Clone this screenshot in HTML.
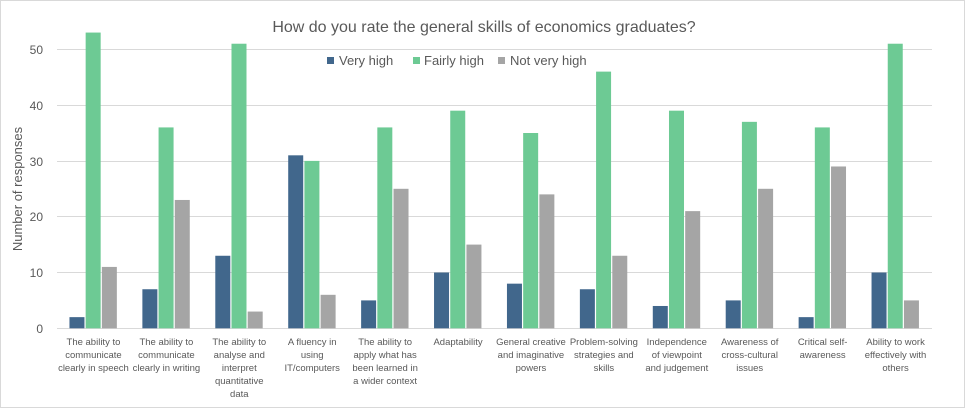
<!DOCTYPE html>
<html><head><meta charset="utf-8"><style>
body{margin:0;background:#fff}
svg{display:block;font-family:"Liberation Sans",sans-serif}
</style></head><body>
<svg width="966" height="409" viewBox="0 0 966 409">
<rect x="0.5" y="0.5" width="964" height="407" fill="#fff" stroke="#d9d9d9"/>
<text x="484" y="32" text-anchor="middle" font-size="16" fill="#595959">How do you rate the general skills of economics graduates?</text>
<g font-size="13" fill="#595959">
<rect x="327" y="57" width="7" height="7" fill="#41678c"/><text x="339" y="65">Very high</text>
<rect x="413" y="57" width="7" height="7" fill="#6dca94"/><text x="424" y="65">Fairly high</text>
<rect x="498" y="57" width="7" height="7" fill="#a5a5a5"/><text x="510" y="65">Not very high</text>
</g>
<g stroke="#d9d9d9" stroke-width="1">
<line x1="57" x2="932" y1="49.5" y2="49.5"/>
<line x1="57" x2="932" y1="105.5" y2="105.5"/>
<line x1="57" x2="932" y1="161.5" y2="161.5"/>
<line x1="57" x2="932" y1="216.5" y2="216.5"/>
<line x1="57" x2="932" y1="272.5" y2="272.5"/>
<line x1="57" x2="932" y1="328.5" y2="328.5"/>
</g>
<g font-size="12" fill="#595959" text-anchor="end">
<text x="43" y="54">50</text><text x="43" y="110">40</text><text x="43" y="166">30</text>
<text x="43" y="221">20</text><text x="43" y="277">10</text><text x="43" y="333">0</text>
</g>
<text transform="translate(22,189) rotate(-90)" text-anchor="middle" font-size="13" fill="#595959">Number of responses</text>
<g id="bars"></g>
<g id="labels" font-size="9.5" fill="#595959" text-anchor="middle"></g>
<script>
var d=[[2,53,11],[7,36,23],[13,51,3],[31,30,6],[5,36,25],[10,39,15],[8,35,24],[7,46,13],[4,39,21],[5,37,25],[2,36,29],[10,51,5]];
var L=[["The ability to","communicate","clearly in speech"],["The ability to","communicate","clearly in writing"],["The ability to","analyse and","interpret","quantitative","data"],["A fluency in","using","IT/computers"],["The ability to","apply what has","been learned in","a wider context"],["Adaptability"],["General creative","and imaginative","powers"],["Problem-solving","strategies and","skills"],["Independence","of viewpoint","and judgement"],["Awareness of","cross-cultural","issues"],["Critical self-","awareness"],["Ability to work","effectively with","others"]];
var c=["#41678c","#6dca94","#a5a5a5"],ns="http://www.w3.org/2000/svg",b=document.getElementById("bars"),lb=document.getElementById("labels");
var w=(932-57)/12,u=(328.3-49.3)/50;
d.forEach(function(r,i){var cx=57+w*i+w/2;r.forEach(function(v,j){var e=document.createElementNS(ns,"rect");var x=cx-24+j*16.2;e.setAttribute("x",x);e.setAttribute("width",15);e.setAttribute("y",328.3-v*u);e.setAttribute("height",v*u);e.setAttribute("fill",c[j]);b.appendChild(e);});
L[i].forEach(function(s,k){var t=document.createElementNS(ns,"text");t.setAttribute("x",cx);t.setAttribute("y",345+k*13);t.textContent=s;lb.appendChild(t);});});
</script>
</svg>
</body></html>
